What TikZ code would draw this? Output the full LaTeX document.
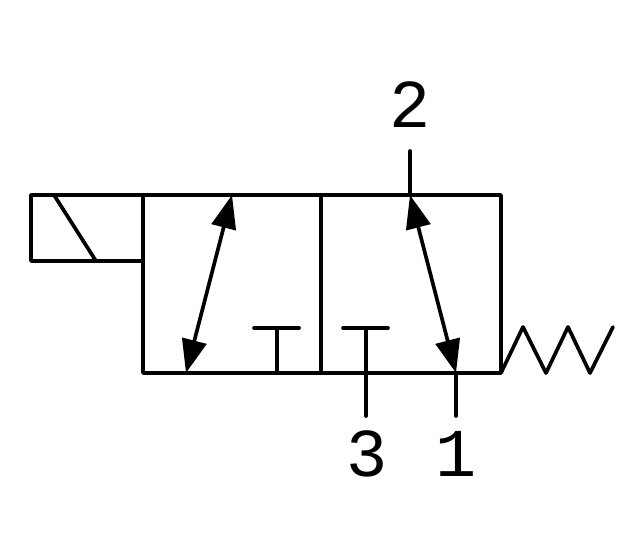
\documentclass[tikz,border=0pt]{standalone}
\usepackage{fontspec}
\usepackage{tikz}
\usetikzlibrary{arrows.meta}
\setmainfont{Liberation Mono}
\tikzset{
    valveline/.style={line width=2.1pt,line join=round,line cap=round},
    flowarrow/.style={line width=2.1pt,{Triangle[length=19pt,width=14pt]}-{Triangle[length=19pt,width=14pt]}},
    portlabel/.style={inner sep=0pt,font=\fontsize{39}{39}\selectfont}
}

\begin{document}
\begin{tikzpicture}[x=0.02cm,y=-0.02cm]
    \useasboundingbox (0,0) rectangle (626,534);
    % Ports on the valve body
    \coordinate (topa) at (232,195);
    \coordinate (bota) at (186,373);
    \coordinate (topb) at (410,195);
    \coordinate (botb) at (456,373);
    \coordinate (exhaust) at (366,373);
    \coordinate (out2) at (410,151);
    \coordinate (out3) at (366,416);
    \coordinate (out1) at (456,416);

    % Draw the two valve positions
    \draw[valveline] (143,195) rectangle (501,373);
    \draw[valveline] (321,195) -- (321,373);

    % Solenoid
    \draw[valveline] (143,195) -- (31,195) -- (31,261) -- (143,261);
    \draw[valveline] (54,195) -- (96,261);

    % Flow paths
    \draw[flowarrow] (topa) -- (bota);
    \draw[flowarrow] (topb) -- (botb);

    % Blocked ports
    \draw[valveline] (254,328) -- (299,328);
    \draw[valveline] (277,328) -- (277,373);
    \draw[valveline] (343,328) -- (388,328);
    \draw[valveline] (366,328) -- (exhaust);

    % Port lines
    \draw[valveline] (out2) -- (topb);
    \draw[valveline] (exhaust) -- (out3);
    \draw[valveline] (botb) -- (out1);

    % Spring
    \draw[valveline] (501,373) -- (523,327) -- (546,373) -- (568,327) -- (590,373) -- (613,327);

    % Port numbers
    \node[portlabel] (lab2) at (410,105) {2};
    \node[portlabel] (lab3) at (367,454) {3};
    \node[portlabel] (lab1) at (456,454) {1};
\end{tikzpicture}
\end{document}
